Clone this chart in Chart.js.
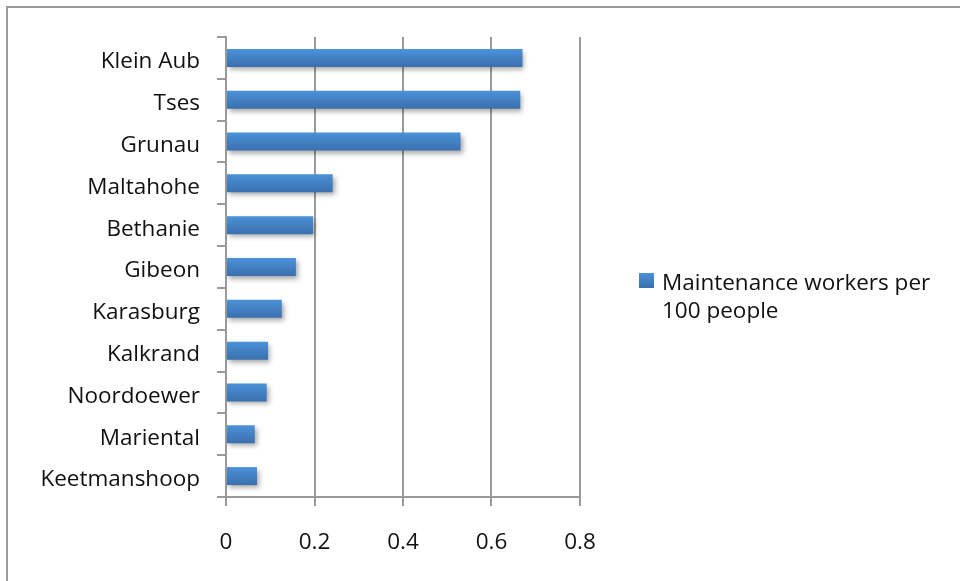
<!DOCTYPE html>
<html>
<head>
<meta charset="utf-8">
<script src="https://cdn.jsdelivr.net/npm/chart.js@4.4.1/dist/chart.umd.min.js"></script>
<style>
  html, body { margin: 0; padding: 0; background: #fff; }
  #wrap { position: relative; width: 960px; height: 581px; overflow: hidden; }
  #frame { position: absolute; left: 6px; top: 6px; width: 1000px; height: 700px;
           border-left: 2px solid #9a9a9a; border-top: 2px solid #9a9a9a; }
  canvas { position: absolute; left: 0; top: 0; }
</style>
</head>
<body>
<div id="wrap">
  <div id="frame"></div>
  <canvas id="workers-chart" width="960" height="581"></canvas>
</div>
<script>
var towns = ['Klein Aub', 'Tses', 'Grunau', 'Maltahohe', 'Bethanie', 'Gibeon',
             'Karasburg', 'Kalkrand', 'Noordoewer', 'Mariental', 'Keetmanshoop'];
var workersPer100 = [0.670, 0.665, 0.530, 0.241, 0.197, 0.158,
                     0.126, 0.095, 0.092, 0.065, 0.070];
var xTicks = [0, 0.2, 0.4, 0.6, 0.8];
var seriesLabel = ['Maintenance workers per', '100 people'];

var FONT = '"Open Sans", Lato, sans-serif';
var FONT_SIZE = 22.5;
var BAR_PCT = 0.43;

function barGradient(ctx, top, bottom) {
    var g = ctx.createLinearGradient(0, top, 0, bottom);
    g.addColorStop(0, '#4c92d8');
    g.addColorStop(1, '#3a6fae');
    return g;
}

// soft drop shadow under the bars
var barShadow = {
    id: 'barShadow',
    beforeDatasetDraw: function (chart) {
        var c = chart.ctx;
        c.save();
        c.shadowColor = 'rgba(0,0,0,0.35)';
        c.shadowBlur = 5;
        c.shadowOffsetX = 2;
        c.shadowOffsetY = 3;
    },
    afterDatasetDraw: function (chart) {
        chart.ctx.restore();
    }
};

// legend on the right, wrapped onto two lines
var sideLegend = {
    id: 'sideLegend',
    afterDraw: function (chart) {
        var c = chart.ctx;
        c.save();
        c.fillStyle = barGradient(c, 273, 288);
        c.fillRect(639, 273, 15, 15);
        c.fillStyle = '#111';
        c.font = FONT_SIZE + 'px ' + FONT;
        c.textBaseline = 'alphabetic';
        c.textAlign = 'left';
        seriesLabel.forEach(function (line, i) {
            c.fillText(line, 662, 290 + i * 28);
        });
        c.restore();
    }
};

var ctx = document.getElementById('workers-chart').getContext('2d');

new Chart(ctx, {
    type: 'bar',
    data: {
        labels: towns,
        datasets: [{
            label: seriesLabel.join(' '),
            data: workersPer100,
            barPercentage: BAR_PCT,
            categoryPercentage: 1,
            backgroundColor: function (context) {
                var chart = context.chart;
                var y = chart.scales.y;
                if (!y || context.dataIndex === undefined) return '#4282c8';
                var yc = y.getPixelForValue(context.dataIndex);
                var h = (y.height / towns.length) * BAR_PCT;
                if (!isFinite(yc) || !isFinite(h)) return '#4282c8';
                return barGradient(chart.ctx, yc - h / 2, yc + h / 2);
            }
        }]
    },
    plugins: [barShadow, sideLegend],
    options: {
        indexAxis: 'y',
        responsive: false,
        animation: false,
        events: [],
        layout: { padding: { top: 37, right: 380, bottom: 0, left: 0 } },
        plugins: {
            legend: { display: false },
            tooltip: { enabled: false }
        },
        scales: {
            x: {
                min: 0,
                max: 0.8,
                afterBuildTicks: function (scale) {
                    scale.ticks = xTicks.map(function (v) { return { value: v }; });
                },
                afterFit: function (scale) { scale.height = 84; },
                grid: { color: '#9a9a9a', lineWidth: 2, tickLength: 9 },
                border: { color: '#9a9a9a', width: 2 },
                ticks: {
                    color: '#111',
                    padding: 23,
                    font: { family: FONT, size: FONT_SIZE },
                    callback: function (v) { return String(v); }
                }
            },
            y: {
                afterFit: function (scale) { scale.width = 226; },
                grid: { offset: true, drawOnChartArea: false, color: '#9a9a9a', lineWidth: 2, tickLength: 9 },
                border: { color: '#9a9a9a', width: 2 },
                ticks: {
                    color: '#111',
                    padding: 17,
                    labelOffset: 4,
                    font: { family: FONT, size: FONT_SIZE }
                }
            }
        }
    }
});
</script>
</body>
</html>
